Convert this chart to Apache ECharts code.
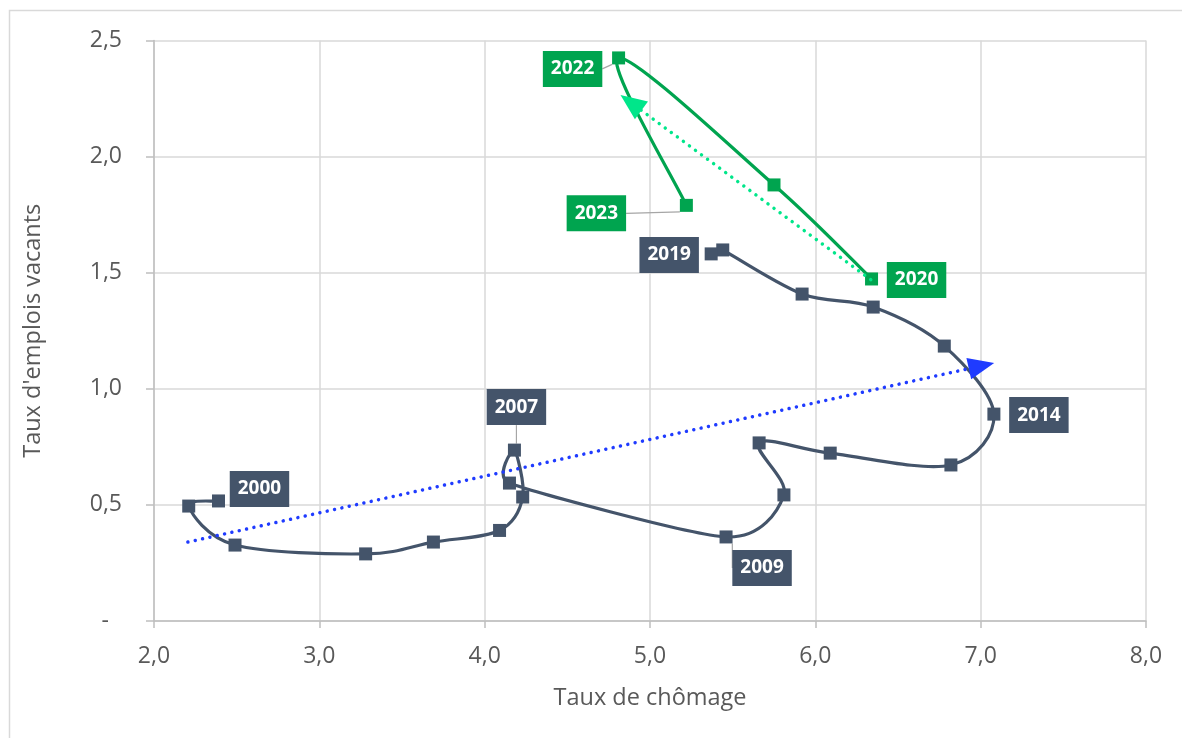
<!DOCTYPE html>
<html><head><meta charset="utf-8">
<script src="https://cdn.jsdelivr.net/npm/echarts@6/dist/echarts.min.js"></script>
<style>html,body{margin:0;padding:0;background:#fff}#c{width:1182px;height:738px}</style>
</head><body><div id="c"></div>
<script>
// ---- data ----
const yearsA = ['2000','2001','2002','2003','2004','2005','2006','2007','2008','2009','2010','2011','2012','2013','2014','2015','2016','2017','2018','2019'];
const unempA = [2.39, 2.21, 2.49, 3.28, 3.69, 4.09, 4.23, 4.18, 4.15, 5.46, 5.81, 5.66, 6.09, 6.82, 7.08, 6.78, 6.35, 5.92, 5.44, 5.37];
const vacA   = [0.517, 0.495, 0.327, 0.289, 0.340, 0.390, 0.534, 0.736, 0.594, 0.362, 0.543, 0.767, 0.723, 0.672, 0.891, 1.184, 1.352, 1.408, 1.598, 1.581];
const yearsB = ['2020','2021','2022','2023'];
const unempB = [6.34, 5.75, 4.81, 5.22];
const vacB   = [1.473, 1.878, 2.425, 1.790];
const trendA = [[2.205, 0.340], [7.005, 1.099]];
const trendB = [[6.335, 1.470], [4.885, 2.232]];
const labelledA = ['2000','2007','2009','2014','2019'];
const labelledB = ['2020','2022','2023'];

// ---- label placement (pixel offsets from the marker) ----
const labelOffsets = {
  '2000':[41,-12], '2007':[2,-43], '2009':[36,31], '2014':[45,1], '2019':[-42,1],
  '2020':[45,1], '2022':[-46,11], '2023':[-90,8]
};
const leaderYears = ['2007','2009','2022','2023'];

const DARK = '#44546A', GREEN = '#00A44F', LIGHTGREEN = '#00E68A', BLUE = '#1F3BFF';
const FONT = 'Open Sans';

function pts(xs, ys) { return xs.map((x, i) => [x, ys[i]]); }

function buildData(years, xs, ys, color, labelled) {
  return years.map((yr, i) => {
    const item = { name: yr, value: [xs[i], ys[i]] };
    if (labelled.includes(yr)) {
      item.label = {
        show: true, position: 'inside', formatter: yr,
        backgroundColor: color, color: '#fff', fontWeight: 'bold',
        fontSize: 19, fontFamily: FONT, padding: [8, 8, 8, 8], lineHeight: 20
      };
      item.labelLine = { show: leaderYears.includes(yr), lineStyle: { color: '#A6A6A6', width: 1.2 } };
    }
    return item;
  });
}
function layoutFor(years) {
  return function (p) {
    const off = labelOffsets[years[p.dataIndex]];
    return off ? { dx: off[0], dy: off[1] } : {};
  };
}
// Excel-like smoothed line (clamped Catmull-Rom → cubic Bézier), points mapped through the axes
function smoothRenderer(xs, ys, color) {
  return function (params, api) {
    if (params.dataIndex !== 0) return null;
    const p = xs.map((x, i) => api.coord([x, ys[i]]));
    const n = p.length;
    const dist = (a, b) => Math.hypot(a[0] - b[0], a[1] - b[1]);
    // tangent handle at each point
    const tan = p.map((pt, i) => {
      const a = p[Math.max(i - 1, 0)], b = p[Math.min(i + 1, n - 1)];
      let tx = (b[0] - a[0]) / 6, ty = (b[1] - a[1]) / 6;
      const h = Math.hypot(tx, ty);
      const segs = [];
      if (i > 0) segs.push(dist(pt, p[i - 1]));
      if (i < n - 1) segs.push(dist(pt, p[i + 1]));
      const lim = Math.min.apply(null, segs) / 2;
      if (h > lim && h > 0) { tx *= lim / h; ty *= lim / h; }
      return [tx, ty];
    });
    let d = 'M' + p[0][0] + ' ' + p[0][1];
    for (let i = 0; i < n - 1; i++) {
      const p1 = p[i], p2 = p[i + 1];
      const c1 = [p1[0] + tan[i][0], p1[1] + tan[i][1]];
      const c2 = [p2[0] - tan[i + 1][0], p2[1] - tan[i + 1][1]];
      d += ' C' + c1[0] + ' ' + c1[1] + ' ' + c2[0] + ' ' + c2[1] + ' ' + p2[0] + ' ' + p2[1];
    }
    return {
      type: 'path', shape: { pathData: d },
      style: { fill: 'none', stroke: color, lineWidth: 3.2, lineJoin: 'round' }
    };
  };
}
const fmt = v => v.toFixed(1).replace('.', ',');

const chart = echarts.init(document.getElementById('c'));
chart.setOption({
  animation: false,
  backgroundColor: '#fff',
  graphic: [{
    type: 'rect', shape: { x: 9.5, y: 10.5, width: 1400, height: 1000 },
    style: { fill: 'none', stroke: '#D9D9D9', lineWidth: 1.5 }, silent: true, z: -1
  }],
  grid: { left: 154, right: 36, top: 40.5, bottom: 117 },
  xAxis: {
    type: 'value', min: 2, max: 8, interval: 1,
    axisLine: { show: true, onZero: false, lineStyle: { color: '#BFBFBF', width: 1.5 } },
    axisTick: { show: true, length: 7, lineStyle: { color: '#BFBFBF', width: 1.5 } },
    splitLine: { show: true, lineStyle: { color: '#D9D9D9', width: 1.5 } },
    axisLabel: { formatter: fmt, fontSize: 23, fontFamily: FONT, color: '#595959', margin: 24 },
    name: 'Taux de chômage', nameLocation: 'middle', nameGap: 65,
    nameTextStyle: { fontSize: 23.5, fontFamily: FONT, color: '#595959' }
  },
  yAxis: {
    type: 'value', min: 0, max: 2.5, interval: 0.5,
    axisLine: { show: true, onZero: false, lineStyle: { color: '#BFBFBF', width: 1.5 } },
    axisTick: { show: true, length: 8, lineStyle: { color: '#BFBFBF', width: 1.5 } },
    splitLine: { show: true, lineStyle: { color: '#D9D9D9', width: 1.5 } },
    axisLabel: {
      formatter: v => v === 0 ? '{d|-}' : fmt(v),
      fontSize: 23, fontFamily: FONT, color: '#595959', margin: 32,
      rich: { d: { fontSize: 23, fontFamily: FONT, color: '#595959', padding: [0, 13, 0, 0] } }
    },
    name: "Taux d'emplois vacants", nameLocation: 'middle', nameGap: 109,
    nameTextStyle: { fontSize: 23.5, fontFamily: FONT, color: '#595959' }
  },
  series: [
    {
      type: 'custom', name: 'curveA', coordinateSystem: 'cartesian2d',
      data: pts(unempA, vacA), encode: { x: 0, y: 1 },
      renderItem: smoothRenderer(unempA, vacA, DARK), silent: true, z: 2
    },
    {
      type: 'custom', name: 'curveB', coordinateSystem: 'cartesian2d',
      data: pts(unempB, vacB), encode: { x: 0, y: 1 },
      renderItem: smoothRenderer(unempB, vacB, GREEN), silent: true, z: 2
    },
    {
      type: 'scatter', name: '2000-2019',
      data: buildData(yearsA, unempA, vacA, DARK, labelledA),
      symbol: 'rect', symbolSize: 13,
      itemStyle: { color: DARK, opacity: 1 },
      labelLayout: layoutFor(yearsA),
      z: 3,
      markLine: {
        silent: true, symbol: ['none', 'triangle'], symbolSize: [22, 26],
        label: { show: false },
        lineStyle: { color: BLUE, width: 3.5, type: [0.01, 7.5], cap: 'round' },
        data: [[{ coord: trendA[0] }, { coord: trendA[1] }]],
        z: 4
      }
    },
    {
      type: 'scatter', name: '2020-2023',
      data: buildData(yearsB, unempB, vacB, GREEN, labelledB),
      symbol: 'rect', symbolSize: 13,
      itemStyle: { color: GREEN, opacity: 1 },
      labelLayout: layoutFor(yearsB),
      z: 3,
      markLine: {
        silent: true, symbol: ['none', 'triangle'], symbolSize: [22, 26],
        label: { show: false },
        lineStyle: { color: LIGHTGREEN, width: 3.5, type: [0.01, 7.5], cap: 'round' },
        data: [[{ coord: trendB[0] }, { coord: trendB[1] }]],
        z: 4
      }
    }
  ]
});
</script></body></html>
